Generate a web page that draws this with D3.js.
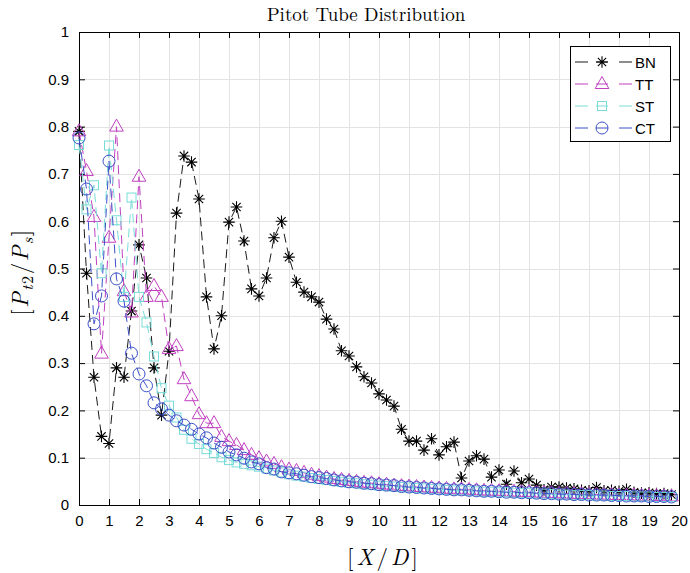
<!DOCTYPE html>
<html>
<head>
<meta charset="utf-8">
<script src="https://cdn.jsdelivr.net/npm/d3@7"></script>
<style>
  html, body { margin: 0; padding: 0; background: #fff; }
  svg { display: block; }
</style>
</head>
<body>
<svg id="chart" width="690" height="573"></svg>
<script>
// Stations along the jet axis, every quarter diameter
const xStations = d3.range(0, 80).map(i => i * 0.25);

// Normalised pitot pressure for each nozzle
const bnValues = [
  0.79, 0.49, 0.27, 0.145, 0.13, 0.29, 0.27, 0.41, 0.55, 0.48,
  0.29, 0.19, 0.325, 0.617, 0.738, 0.725, 0.647, 0.44, 0.33, 0.40,
  0.598, 0.63, 0.558, 0.457, 0.442, 0.48, 0.565, 0.60, 0.524, 0.471,
  0.45, 0.44, 0.429, 0.393, 0.372, 0.326, 0.315, 0.292, 0.271, 0.258,
  0.235, 0.222, 0.209, 0.16, 0.135, 0.135, 0.116, 0.14, 0.106, 0.123,
  0.133, 0.057, 0.093, 0.104, 0.097, 0.059, 0.074, 0.044, 0.072, 0.047,
  0.055, 0.042, 0.032, 0.038, 0.038, 0.036, 0.034, 0.031, 0.030, 0.037,
  0.030, 0.031, 0.029, 0.033, 0.027, 0.025, 0.026, 0.024, 0.024, 0.022
];
const ttValues = [
  0.79, 0.706, 0.609, 0.32, 0.565, 0.80, 0.452, 0.407, 0.694, 0.44,
  0.463, 0.44, 0.33, 0.336, 0.266, 0.23, 0.192, 0.173, 0.173, 0.144,
  0.135, 0.127, 0.116, 0.106, 0.099, 0.092, 0.087, 0.080, 0.075, 0.072,
  0.068, 0.064, 0.061, 0.058, 0.055, 0.053, 0.051, 0.049, 0.047, 0.046,
  0.044, 0.043, 0.041, 0.040, 0.039, 0.038, 0.037, 0.036, 0.035, 0.034,
  0.033, 0.033, 0.032, 0.031, 0.030, 0.030, 0.029, 0.028, 0.028, 0.027,
  0.027, 0.026, 0.025, 0.025, 0.024, 0.024, 0.023, 0.023, 0.022, 0.022,
  0.021, 0.021, 0.020, 0.020, 0.020, 0.019, 0.019, 0.019, 0.018, 0.018
];
const stValues = [
  0.761, 0.625, 0.676, 0.49, 0.76, 0.602, 0.44, 0.65, 0.44, 0.386,
  0.314, 0.247, 0.21, 0.185, 0.159, 0.14, 0.129, 0.118, 0.11, 0.101,
  0.095, 0.090, 0.087, 0.084, 0.081, 0.077, 0.073, 0.069, 0.065, 0.062,
  0.060, 0.057, 0.055, 0.053, 0.051, 0.049, 0.047, 0.046, 0.044, 0.043,
  0.041, 0.040, 0.039, 0.038, 0.037, 0.036, 0.035, 0.034, 0.033, 0.032,
  0.031, 0.031, 0.030, 0.029, 0.028, 0.028, 0.027, 0.027, 0.026, 0.025,
  0.025, 0.024, 0.024, 0.023, 0.022, 0.022, 0.021, 0.021, 0.021, 0.020,
  0.020, 0.019, 0.019, 0.019, 0.018, 0.018, 0.018, 0.017, 0.017, 0.017
];
const ctValues = [
  0.776, 0.668, 0.383, 0.442, 0.727, 0.478, 0.431, 0.321, 0.277, 0.252,
  0.216, 0.203, 0.19, 0.178, 0.169, 0.16, 0.15, 0.142, 0.131, 0.122,
  0.112, 0.106, 0.099, 0.091, 0.087, 0.079, 0.076, 0.070, 0.068, 0.066,
  0.063, 0.060, 0.058, 0.056, 0.053, 0.051, 0.049, 0.048, 0.046, 0.045,
  0.043, 0.042, 0.041, 0.039, 0.038, 0.037, 0.036, 0.035, 0.034, 0.033,
  0.032, 0.032, 0.031, 0.030, 0.029, 0.029, 0.028, 0.027, 0.027, 0.026,
  0.026, 0.025, 0.024, 0.024, 0.023, 0.023, 0.022, 0.022, 0.021, 0.021,
  0.021, 0.020, 0.020, 0.019, 0.019, 0.019, 0.018, 0.018, 0.018, 0.017
];

const seriesNames = ["BN", "TT", "ST", "CT"];
const xTicks = d3.range(0, 21, 1);
const yTicks = d3.range(0, 11).map(i => i / 10);
const yTickLabels = ["0", "0.1", "0.2", "0.3", "0.4", "0.5", "0.6", "0.7", "0.8", "0.9", "1"];

const series = [
  { name: seriesNames[0], values: bnValues, color: "#000000", lineColor: "#1a1a1a", marker: "star" },
  { name: seriesNames[1], values: ttValues, color: "#c040c0", lineColor: "#c040c0", marker: "triangle" },
  { name: seriesNames[2], values: stValues, color: "#78dcd8", lineColor: "#78dcd8", marker: "square" },
  { name: seriesNames[3], values: ctValues, color: "#3c50c8", lineColor: "#3c50c8", marker: "circle" }
];

const svg = d3.select("#chart");
const plotL = 79, plotR = 679, plotT = 32, plotB = 505;

const x = d3.scaleLinear().domain([0, 20]).range([plotL, plotR]);
const y = d3.scaleLinear().domain([0, 1]).range([plotB, plotT]);

// grid
const grid = svg.append("g").attr("stroke", "#e3e3e3").attr("stroke-width", 1);
grid.selectAll("line.gx").data(xTicks).join("line")
  .attr("x1", d => Math.round(x(d)) + 0.5).attr("x2", d => Math.round(x(d)) + 0.5)
  .attr("y1", plotT).attr("y2", plotB);
grid.selectAll("line.gy").data(yTicks).join("line")
  .attr("y1", d => Math.round(y(d)) + 0.5).attr("y2", d => Math.round(y(d)) + 0.5)
  .attr("x1", plotL).attr("x2", plotR);

// axes with inward ticks on all four sides
const tickFont = "'Liberation Sans', Arial, sans-serif";
const axB = svg.append("g").attr("transform", `translate(0,${plotB})`)
  .call(d3.axisBottom(x).tickValues(xTicks).tickSize(-6).tickPadding(10).tickFormat(d3.format("d")));
const axT = svg.append("g").attr("transform", `translate(0,${plotT})`)
  .call(d3.axisTop(x).tickValues(xTicks).tickSize(-6).tickFormat(""));
const axL = svg.append("g").attr("transform", `translate(${plotL},0)`)
  .call(d3.axisLeft(y).tickValues(yTicks).tickSize(-6).tickPadding(10).tickFormat((d, i) => yTickLabels[i]));
const axR = svg.append("g").attr("transform", `translate(${plotR},0)`)
  .call(d3.axisRight(y).tickValues(yTicks).tickSize(-6).tickFormat(""));
[axB, axT, axL, axR].forEach(g => {
  g.select(".domain").attr("stroke", "#000").attr("stroke-width", 1);
  g.selectAll(".tick line").attr("stroke", "#000");
  g.selectAll("text").attr("font-family", tickFont).attr("font-size", 15).attr("fill", "#000");
});

// marker shapes
function drawMarker(g, type, color) {
  if (type === "star") {
    const r = 5.8, d = r * 0.72;
    g.append("path")
      .attr("d", `M${-r},0L${r},0M0,${-r}L0,${r}M${-d},${-d}L${d},${d}M${-d},${d}L${d},${-d}`)
      .attr("stroke", color).attr("stroke-width", 1.1).attr("fill", "none");
  } else if (type === "triangle") {
    g.append("path").attr("d", "M0,-7.5L6.8,4.5L-6.8,4.5Z")
      .attr("stroke", color).attr("stroke-width", 1).attr("fill", "none");
  } else if (type === "square") {
    g.append("rect").attr("x", -4.5).attr("y", -4.5).attr("width", 9).attr("height", 9)
      .attr("stroke", color).attr("stroke-width", 1).attr("fill", "none");
  } else {
    g.append("circle").attr("r", 6)
      .attr("stroke", color).attr("stroke-width", 1).attr("fill", "none");
  }
}

const line = d3.line().x(d => x(d[0])).y(d => y(d[1]));
const plot = svg.append("g");
series.forEach(s => {
  const pts = s.values.map((v, i) => [xStations[i], v]);
  plot.append("path").attr("d", line(pts))
    .attr("fill", "none").attr("stroke", s.lineColor).attr("stroke-width", 1)
    .attr("stroke-dasharray", "9,5");
  const mg = plot.append("g");
  pts.forEach(p => {
    const g = mg.append("g").attr("transform", `translate(${x(p[0])},${y(p[1])})`);
    drawMarker(g, s.marker, s.color);
  });
});

// legend
const legend = svg.append("g");
legend.append("rect").attr("x", 570.5).attr("y", 46.5).attr("width", 100).attr("height", 95)
  .attr("fill", "#fff").attr("stroke", "#000").attr("stroke-width", 1);
series.forEach((s, i) => {
  const ly = 62 + i * 22;
  legend.append("line").attr("x1", 575).attr("x2", 588).attr("y1", ly).attr("y2", ly)
    .attr("stroke", s.lineColor).attr("stroke-width", 1);
  legend.append("line").attr("x1", 619).attr("x2", 632).attr("y1", ly).attr("y2", ly)
    .attr("stroke", s.lineColor).attr("stroke-width", 1);
  legend.append("line").attr("x1", 596).attr("x2", 608).attr("y1", ly).attr("y2", ly)
    .attr("stroke", s.lineColor).attr("stroke-width", 1);
  const g = legend.append("g").attr("transform", `translate(602,${ly})`);
  drawMarker(g, s.marker, s.color);
  legend.append("text").attr("x", 635).attr("y", ly + 5.5)
    .attr("font-family", tickFont).attr("font-size", 15).text(s.name);
});

// title and axis labels
const serif = "'Latin Modern Roman', 'DejaVu Serif', 'Liberation Serif', serif";
svg.append("text").attr("x", 366).attr("y", 21).attr("text-anchor", "middle")
  .attr("font-family", serif).attr("font-size", 19).text("Pitot Tube Distribution");

const xl = svg.append("text").attr("x", 384).attr("y", 565).attr("text-anchor", "middle")
  .attr("font-family", serif).attr("font-size", 23).attr("letter-spacing", 3);
xl.append("tspan").text("[");
xl.append("tspan").attr("font-style", "italic").text("X");
xl.append("tspan").text("/");
xl.append("tspan").attr("font-style", "italic").text("D");
xl.append("tspan").text("]");

const yl = svg.append("text").attr("transform", "translate(28,272) rotate(-90)")
  .attr("text-anchor", "middle").attr("font-family", serif).attr("font-size", 23)
  .attr("letter-spacing", 1.5);
yl.append("tspan").text("[");
yl.append("tspan").attr("font-style", "italic").text("P");
yl.append("tspan").attr("font-style", "italic").attr("font-size", 16).attr("dy", 5).text("t");
yl.append("tspan").attr("font-size", 16).text("2");
yl.append("tspan").attr("dy", -5).text("/");
yl.append("tspan").attr("font-style", "italic").text("P");
yl.append("tspan").attr("font-style", "italic").attr("font-size", 16).attr("dy", 5).text("s");
yl.append("tspan").attr("dy", -5).text("]");
</script>
</body>
</html>
